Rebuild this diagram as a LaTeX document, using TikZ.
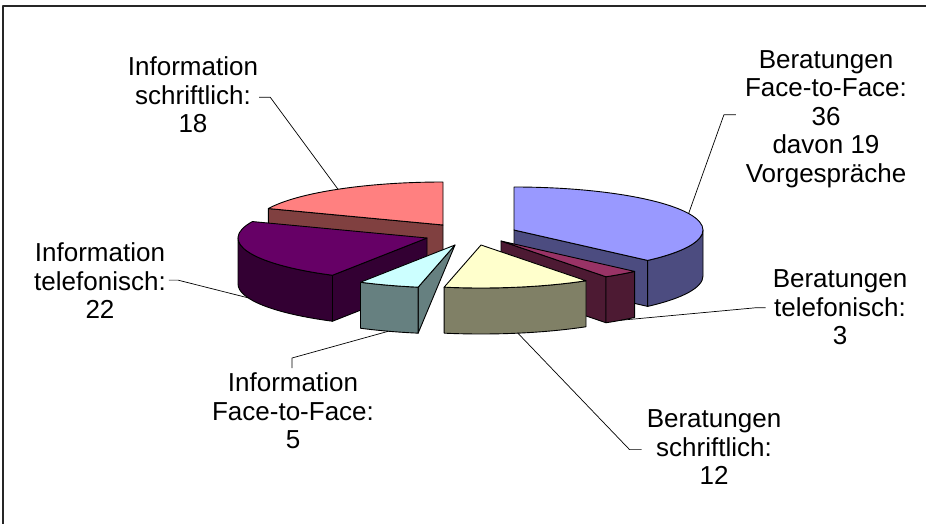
\documentclass[tikz,border=0pt]{standalone}
\usepackage{fontspec}
\setmainfont{Liberation Sans}
\usetikzlibrary{calc}
\definecolor{bfTop}{HTML}{9999FF}\definecolor{bfSide}{HTML}{4C4C80}
\definecolor{btTop}{HTML}{993366}\definecolor{btSide}{HTML}{4D1A33}
\definecolor{bsTop}{HTML}{FFFFCC}\definecolor{bsSide}{HTML}{808066}
\definecolor{ifTop}{HTML}{CCFFFF}\definecolor{ifSide}{HTML}{668080}
\definecolor{itTop}{HTML}{660066}\definecolor{itSide}{HTML}{330033}
\definecolor{isTop}{HTML}{FF8080}\definecolor{isSide}{HTML}{804040}
\begin{document}
\begin{tikzpicture}[x=1pt,y=1pt,line join=round,
  ell/.style={x radius=189, y radius=43},
  face/.style={draw=black, line width=0.9pt},
  leader/.style={draw=black, line width=0.7pt},
  lbl/.style={align=center, inner sep=0pt, anchor=north, font=\fontsize{26}{28.5}\selectfont}]
\useasboundingbox (0,0) rectangle (926,523);
\draw[line width=1.6pt, black!85] (3,-10) -- (3,517) -- (940,517);
% Information schriftlich
\begin{scope}[shift={(443,298)}]
  \filldraw[face, fill=isSide] (0,0) -- (157.5:189 and 43) -- ++(0,-46) -- (0,-46) -- cycle;
  \filldraw[face, fill=isTop] (0,0) -- (90:189 and 43) arc[start angle=90,end angle=157.5,ell] -- cycle;
  \coordinate (tIS) at (123.75:189 and 43);
\end{scope}
% Beratungen Face-to-Face
\begin{scope}[shift={(514,293)}]
  \filldraw[face, fill=bfSide] (0,0) -- (-45:189 and 43) -- ++(0,-46) -- (0,-46) -- cycle;
  \filldraw[face, fill=bfSide] (-45:189 and 43) arc[start angle=-45,end angle=0,ell] -- ++(0,-46) arc[start angle=0,end angle=-45,ell] -- cycle;
  \filldraw[face, fill=bfTop] (0,0) -- (-45:189 and 43) arc[start angle=-45,end angle=90,ell] -- cycle;
  \coordinate (tBF) at (22.5:189 and 43);
\end{scope}
% Information telefonisch
\begin{scope}[shift={(427,285)}]
  \filldraw[face, fill=itSide] (0,0) -- (-120:189 and 43) -- ++(0,-46) -- (0,-46) -- cycle;
  \filldraw[face, fill=itSide] (-180:189 and 43) arc[start angle=-180,end angle=-120,ell] -- ++(0,-46) arc[start angle=-120,end angle=-180,ell] -- cycle;
  \filldraw[face, fill=itTop] (0,0) -- (-202.5:189 and 43) arc[start angle=-202.5,end angle=-120,ell] -- cycle;
  \path (-161.25:189 and 43) ++(0,-46) coordinate (tIT);
\end{scope}
% Beratungen telefonisch
\begin{scope}[shift={(501,282)}]
  \filldraw[face, fill=btSide] (0,0) -- (-56.25:189 and 43) -- ++(0,-46) -- (0,-46) -- cycle;
  \filldraw[face, fill=btSide] (-56.25:189 and 43) arc[start angle=-56.25,end angle=-45,ell] -- ++(0,-46) arc[start angle=-45,end angle=-56.25,ell] -- cycle;
  \filldraw[face, fill=btTop] (0,0) -- (-56.25:189 and 43) arc[start angle=-56.25,end angle=-45,ell] -- cycle;
  \path (-50.625:189 and 43) ++(0,-46) coordinate (tBT);
\end{scope}
% Beratungen schriftlich
\begin{scope}[shift={(481,278)}]
  \filldraw[face, fill=bsSide] (-101.25:189 and 43) arc[start angle=-101.25,end angle=-56.25,ell] -- ++(0,-46) arc[start angle=-56.25,end angle=-101.25,ell] -- cycle;
  \filldraw[face, fill=bsTop] (0,0) -- (-101.25:189 and 43) arc[start angle=-101.25,end angle=-56.25,ell] -- cycle;
  \path (-78.75:189 and 43) ++(0,-46) coordinate (tBS);
\end{scope}
% Information Face-to-Face
\begin{scope}[shift={(455,278)}]
  \filldraw[face, fill=ifSide] (0,0) -- (-101.25:189 and 43) -- ++(0,-46) -- cycle;
  \filldraw[face, fill=ifSide] (-120:189 and 43) arc[start angle=-120,end angle=-101.25,ell] -- ++(0,-46) arc[start angle=-101.25,end angle=-120,ell] -- cycle;
  \filldraw[face, fill=ifTop] (0,0) -- (-120:189 and 43) arc[start angle=-120,end angle=-101.25,ell] -- cycle;
  \path (-110.625:189 and 43) ++(0,-46) coordinate (tIF);
\end{scope}
% labels
\node[lbl] (bf) at (826,472.7) {Beratungen\\Face-to-Face:\\36\\davon 19\\Vorgespräche};
\node[lbl] (is) at (193,466.5) {Information\\schriftlich:\\18};
\node[lbl] (it) at (100,280.3) {Information\\telefonisch:\\22};
\node[lbl] (bt) at (840,253.3) {Beratungen\\telefonisch:\\3};
\node[lbl] (bs) at (714,113.3) {Beratungen\\schriftlich:\\12};
\node[lbl] (if) at (293,150.5) {Information\\Face-to-Face:\\5};
% leaders
\draw[leader] (bf.west) ++(-9,4.3) -- ++(-12,0) -- (tBF);
\draw[leader] (is.east) ++(1,-2.5) -- ++(11,0) -- (tIS);
\draw[leader] (it.east) ++(3,0.7) -- ++(9,0) -- (tIT);
\draw[leader] (bt.west) ++(-7,-0.3) -- ++(-10,0) -- (tBT);
\draw[leader] (bs.west) ++(-5,-2.3) -- ++(-12,0) -- (tBS);
\draw[leader] (if.north) ++(-1,4.5) -- ++(0,10) -- (tIF);
\end{tikzpicture}
\end{document}
